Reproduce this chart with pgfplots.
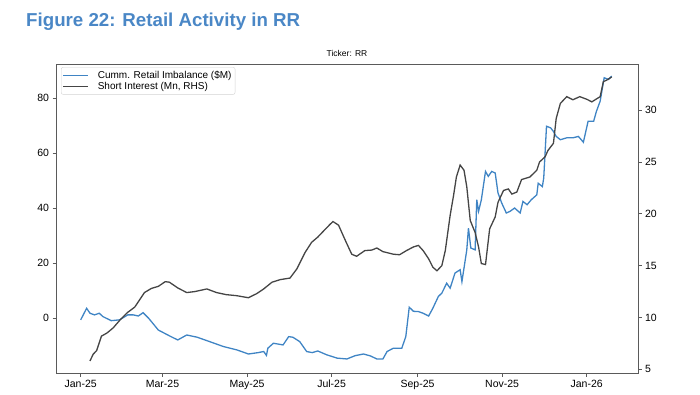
\documentclass[border=0pt]{standalone}
\usepackage{fontspec}
\setmainfont{Liberation Sans}
\usepackage{pgfplots}
\pgfplotsset{compat=1.18}
\definecolor{retailblue}{HTML}{3F84C4}
\definecolor{sigray}{HTML}{454545}
\definecolor{titleblue}{HTML}{4A87C6}
\definecolor{framegray}{HTML}{5A5A5A}

\pgfplotstableread{
x y
0 -0.6
4.3 3.6
6.7 1.8
10 1.2
13.4 1.8
16 0.6
22 -0.9
28 -0.6
34 1.2
38 1.2
41.6 0.8
45 2.0
49 0
56 -4.3
64 -6.4
70 -7.9
76.5 -6.1
84 -6.9
93 -8.5
103 -10.3
112.6 -11.5
121 -13
128 -12.5
132 -12.1
134 -13.5
135 -10.9
139 -9.1
146 -9.7
150 -6.7
153 -6.9
158 -8.5
163 -12.1
167 -12.5
171 -11.9
177.5 -13.3
185 -14.5
192 -14.8
198 -13.6
204 -13
209 -13.7
213.6 -14.8
218 -14.8
221 -12.1
225.5 -10.9
231.6 -10.9
234.5 -6.7
237 4.0
240 2.5
243.6 2.4
247 1.8
251 0.8
254 3.6
258 7.9
260.5 9.1
264 12.7
266.5 10.9
270 16.4
273.7 17.6
275 13.3
278.5 24.8
279.7 32.7
281.4 25.5
284.5 24.8
285.7 43
287 38.8
289 43
292 53.3
294 51.5
296.5 53.3
299 52.7
301 45.5
303.7 41.8
307 38.2
309.7 38.8
313 40
317 38.2
319 42.4
322 41.2
325 43
329 44.8
330 49
333 47.8
334 50.9
336 69.7
339 69.1
341 67.8
343 66
346 64.8
350.6 65.5
355 65.5
359 66
362.6 63.9
366 71.5
370 71.5
372 75.1
374.7 78.8
377.6 87.3
380.7 86.7
383 87.9
}\retail

\pgfplotstableread{
x y
6.7 5.8
9 6.45
11.5 6.8
15 8.2
19 8.5
23.5 9.0
28 9.7
34 10.5
39 11.0
43 11.8
46 12.4
51 12.8
56 13.0
61 13.45
64 13.4
70 12.85
76.5 12.4
82.5 12.5
91 12.75
98 12.4
105 12.2
112.5 12.1
121 11.9
127 12.3
132 12.75
138 13.4
144 13.65
151 13.8
156 14.7
162 16.3
166.6 17.25
171 17.75
176 18.45
180 19.0
182 19.25
186 18.9
191 17.4
195.5 16.1
199 15.9
205 16.45
210 16.5
213.6 16.7
218 16.35
225.5 16.1
230 16.05
235 16.45
240 16.8
243.6 16.95
247 16.45
251 15.65
254 14.85
257 14.5
260.5 15.0
263 16.45
266.5 19.85
269 21.8
271 23.55
273.7 24.7
276.5 24.2
278.5 22.6
281 19.35
284.5 18.2
287 16.8
289 15.2
292 15.1
295 18.55
299 19.7
301 21.1
305 22.25
308.5 22.4
311 21.9
314.6 22.1
318 23.3
324 23.55
329 24.2
331 25.0
335 25.5
337 26.1
341 26.8
343 29.2
346 30.65
350.6 31.3
355 31.0
360 31.3
365 31.05
368.7 30.8
374.7 31.3
377 32.75
379.5 32.9
383 33.2
}\shortint

\begin{document}
\begin{tikzpicture}[x=1pt,y=1pt]
\path[use as bounding box] (0,0) rectangle (700,394);
\node[anchor=base west, font=\fontsize{18.7}{21}\selectfont\bfseries, text=titleblue, inner sep=0] at (26,367) {Figure 22: Retail Activity in RR};
\begin{axis}[
  at={(56pt,21pt)}, anchor=south west, scale only axis,
  width=582pt, height=309pt,
  xmin=-17.8, xmax=402, ymin=-19.9, ymax=92.3,
  xtick={0,59,120,181,243,304,365},
  xticklabels={Jan-25,Mar-25,May-25,Jul-25,Sep-25,Nov-25,Jan-26},
  ytick={0,20,40,60,80},
  xtick pos=bottom, ytick pos=left,
  tick align=outside, major tick length=3.5pt,
  tick style={framegray, line width=0.6pt},
  axis line style={framegray, line width=0.7pt},
  tick label style={font=\fontsize{10.5}{12}\selectfont},
  /pgf/number format/assume math mode=true,
  title={Ticker: RR},
  title style={font=\fontsize{8.5}{9.5}\selectfont, yshift=-2pt},
  legend style={at={(0.0086,0.99)}, anchor=north west, draw=gray!35,
    rounded corners=2pt, font=\fontsize{10}{11}\selectfont,
    row sep=-1.5pt, inner sep=1.5pt, cells={anchor=west}},
  legend image code/.code={\draw[#1] (0pt,0pt) -- (25pt,0pt); \path (32pt,0pt);},
]
\addplot[retailblue, line width=1.3pt, forget plot] table[x=x,y=y] {\retail};
\addlegendimage{draw=retailblue, line width=1.1pt}
\addlegendentry{Cumm. Retail Imbalance (\$M)}
\addlegendimage{draw=sigray, line width=1.1pt}
\addlegendentry{Short Interest (Mn, RHS)}
\end{axis}
\begin{axis}[
  at={(56pt,21pt)}, anchor=south west, scale only axis,
  width=582pt, height=309pt,
  xmin=-17.8, xmax=402, ymin=4.64, ymax=34.45,
  axis x line=none, axis y line*=right,
  ytick={5,10,15,20,25,30},
  tick align=outside, major tick length=3.5pt,
  tick style={framegray, line width=0.6pt},
  axis line style={framegray, line width=0.7pt},
  tick label style={font=\fontsize{10.5}{12}\selectfont},
  /pgf/number format/assume math mode=true,
]
\addplot[sigray, line width=1.3pt] table[x=x,y=y] {\shortint};
\end{axis}
\end{tikzpicture}
\end{document}
